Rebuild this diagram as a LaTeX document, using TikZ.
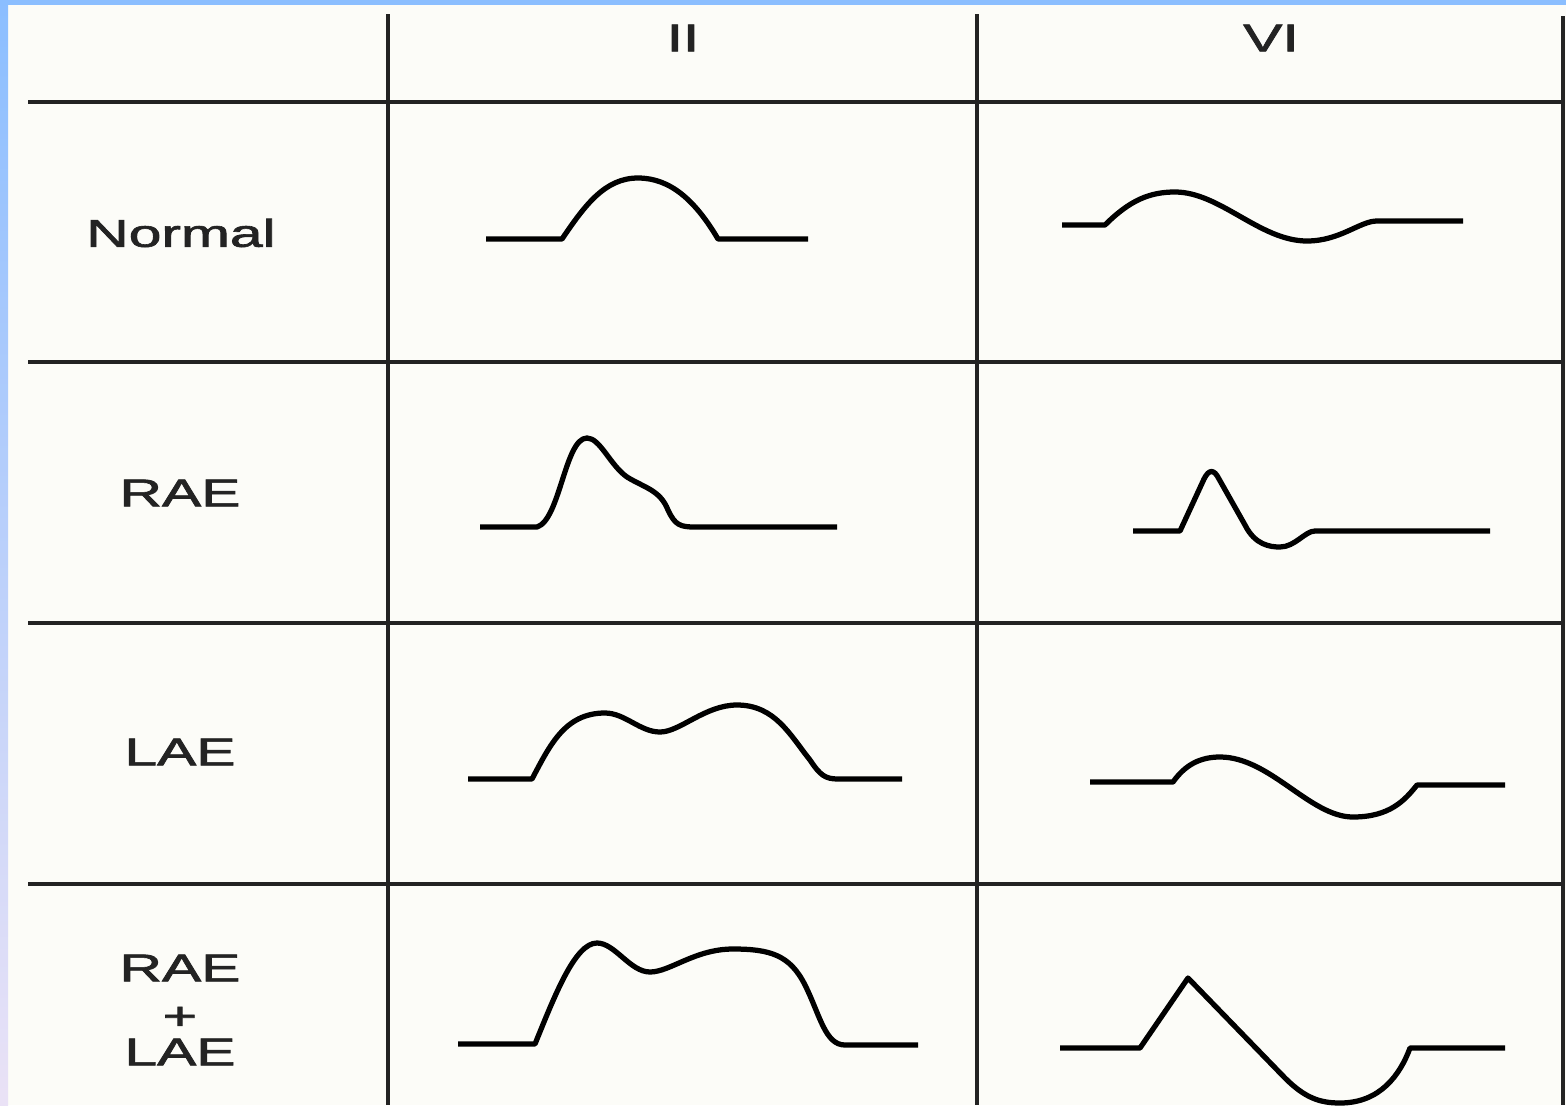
\documentclass[tikz,border=0pt]{standalone}
\usepackage{fontspec}
\setmainfont{Liberation Sans}
\newfontfamily\headfont{Liberation Sans}[FakeBold=1.6]
\usetikzlibrary{positioning}
\definecolor{bandblue}{RGB}{139,190,255}
\definecolor{bandlav}{RGB}{234,226,246}
\definecolor{paper}{RGB}{252,252,248}
\definecolor{ink}{RGB}{35,35,35}
\newcommand{\wide}[1]{\scalebox{1.52}[1]{#1}}

\begin{document}
\begin{tikzpicture}[x=.2mm, y=-.2mm,
    gridline/.style={line width=.85mm, ink},
    wave/.style={line width=1.05mm, black, line join=round},
    lbl/.style={font=\headfont\fontsize{22}{24}\selectfont, text=ink, inner sep=0pt}]
    \useasboundingbox (0,0) rectangle (1566,1105);

    % paper and blue frame
    \fill[paper] (0,0) rectangle (1566,1105);
    \shade[top color=bandblue, bottom color=bandlav] (0,0) rectangle (8,1105);
    \fill[bandblue] (0,0) rectangle (1566,5);

    % table lines
    \foreach \x in {388,977} \draw[gridline] (\x,14) -- (\x,1105);
    \draw[gridline] (1563,16) -- (1563,1105);
    \foreach \y in {102,362,623,884} \draw[gridline] (28,\y) -- (1563,\y);

    % column heads
    \node[lbl] (ii) at (683,38) {\wide{II}};
    \node[lbl] (vi) at (1271,38) {\wide{VI}};

    % row heads
    \node[lbl] (normal) at (181,233) {\wide{Normal}};
    \node[lbl] (rae) at (180,493) {\wide{RAE}};
    \node[lbl] (lae) at (180,752) {\wide{LAE}};
    \node[lbl] (both) at (180,968) {\wide{RAE}};
    \node[lbl] (plus) at (180,1018) {\wide{+}};
    \node[lbl] (lae2) at (180,1052) {\wide{LAE}};

    % normal
    \draw[wave] (486,239) -- (562,239) .. controls (585,205) and (605,178) .. (638,178)
      .. controls (670,178) and (695,200) .. (718,239) -- (808,239);
    \draw[wave] (1062,225) -- (1105,225) .. controls (1130,200) and (1150,192) .. (1175,192)
      .. controls (1220,192) and (1260,241) .. (1307,241)
      .. controls (1340,241) and (1360,221) .. (1377,221) -- (1463,221);

    % RAE
    \draw[wave] (480,527) -- (537,527) .. controls (560,520) and (565,438) .. (587,438)
      .. controls (600,438) and (610,465) .. (627,477)
      .. controls (645,488) and (660,490) .. (668,510)
      .. controls (675,525) and (680,527) .. (695,527) -- (837,527);
    \draw[wave] (1133,531) -- (1180,531) -- (1204,479) .. controls (1209,469) and (1214,469) .. (1219,479)
      -- (1245,525) .. controls (1255,545) and (1270,547) .. (1280,547)
      .. controls (1295,547) and (1305,531) .. (1315,531) -- (1490,531);

    % LAE
    \draw[wave] (468,779) -- (532,779) .. controls (550,745) and (565,713) .. (605,713)
      .. controls (625,713) and (640,732) .. (660,732)
      .. controls (680,732) and (705,705) .. (737,705)
      .. controls (775,705) and (790,735) .. (810,760)
      .. controls (820,775) and (825,779) .. (838,779) -- (902,779);
    \draw[wave] (1090,782) -- (1173,782) .. controls (1185,765) and (1200,757) .. (1220,757)
      .. controls (1270,757) and (1310,817) .. (1353,817)
      .. controls (1390,817) and (1405,800) .. (1417,785) -- (1505,785);

    % RAE + LAE
    \draw[wave] (458,1044) -- (535,1044) .. controls (555,995) and (575,943) .. (597,943)
      .. controls (615,943) and (630,972) .. (650,972)
      .. controls (670,972) and (695,949) .. (733,949)
      .. controls (770,949) and (790,955) .. (805,985)
      .. controls (820,1015) and (825,1045) .. (845,1045) -- (918,1045);
    \draw[wave] (1060,1048) -- (1140,1048) -- (1188,978) -- (1285,1078)
      .. controls (1305,1098) and (1320,1103) .. (1340,1103)
      .. controls (1380,1103) and (1400,1075) .. (1410,1048) -- (1505,1048);
\end{tikzpicture}
\end{document}
